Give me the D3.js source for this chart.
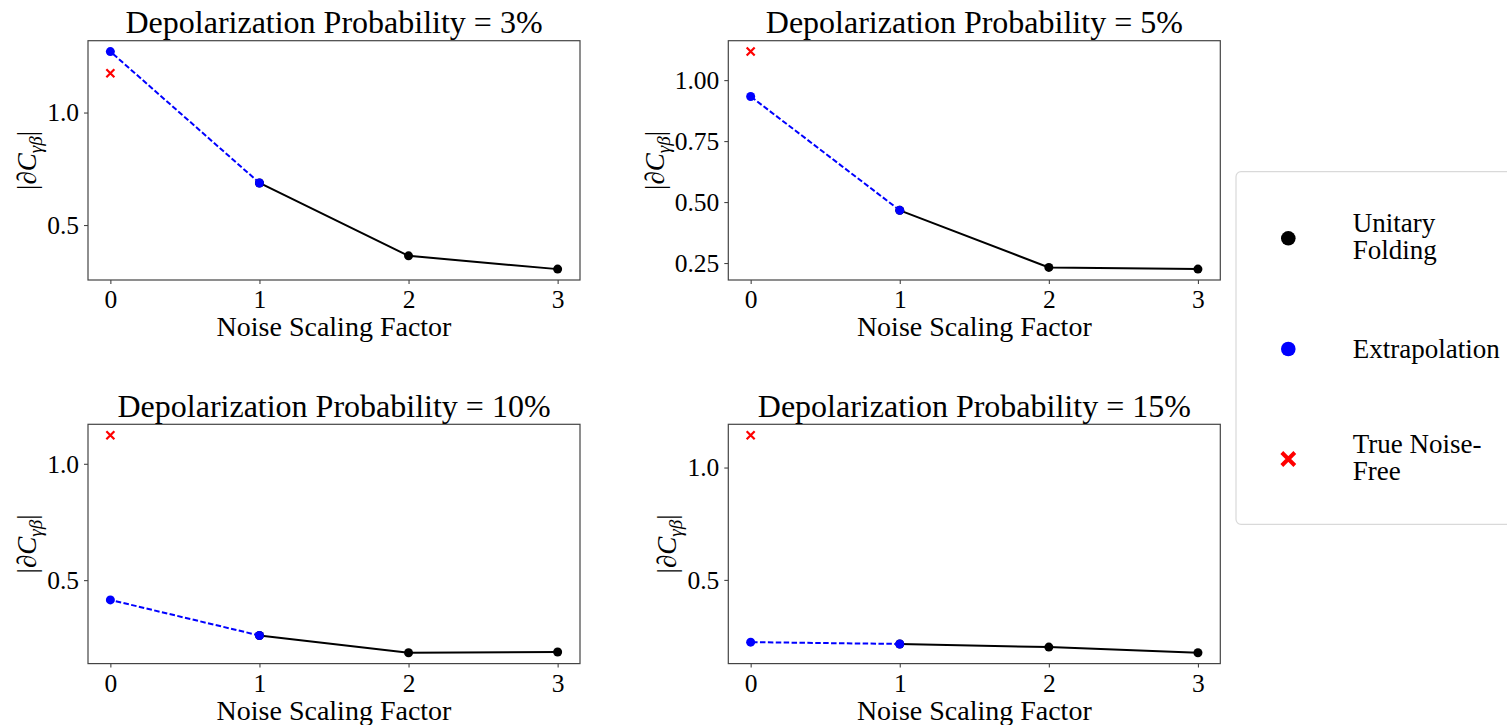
<!DOCTYPE html>
<meta charset='utf-8'>
<style>
body { margin: 0; background: #fff; }
svg { display: block; }
svg, svg text { font-family: "Liberation Serif", "Times New Roman", Times, "DejaVu Serif", serif; fill: #000; }
.tick text { font-size: 25.5px; }
.title { font-size: 32px; }
.xlabel { font-size: 28px; }
.ylabel { font-size: 27px; }
.legend text { font-size: 27px; }
</style>
<svg width='1507' height='725'></svg>
<script src="https://cdn.jsdelivr.net/npm/d3@7"></script>
<script>

// one entry per panel
const probabilities = ['3%', '5%', '10%', '15%'];
const factors = [0, 1, 2, 3];
const foldingFactors = [1, 2, 3];
const foldingValues = [
  [0.687, 0.363, 0.304],
  [0.466, 0.232, 0.225],
  [0.262, 0.188, 0.191],
  [0.215, 0.201, 0.176]
];
const extrapolated = [1.271, 0.933, 0.415, 0.223];
const noiseFree = [1.175, 1.117, 1.123, 1.144];
const yTicks = [
  [0.5, 1.0],
  [0.25, 0.5, 0.75, 1.0],
  [0.5, 1.0],
  [0.5, 1.0]
];
const yFormats = ['.1f', '.2f', '.1f', '.1f'];
const legendLabels = [['Unitary', 'Folding'], ['Extrapolation'], ['True Noise-', 'Free']];

const serif = '"Liberation Serif", "Times New Roman", Times, "DejaVu Serif", serif';
const svg = d3.select('svg');

const plotW = 492, plotH = 239.3;
const origins = [[88, 40.7], [728.3, 40.7], [88, 424.3], [728.3, 424.3]];

probabilities.forEach((p, i) => {
  const [ox, oy] = origins[i];
  const g = svg.append('g').attr('transform', `translate(${ox},${oy})`);

  const all = foldingValues[i].concat([extrapolated[i], noiseFree[i]]);
  const [lo, hi] = d3.extent(all);
  const pad = (hi - lo) * 0.05;

  const x = d3.scaleLinear().domain([-0.15, 3.15]).range([0, plotW]);
  const y = d3.scaleLinear().domain([lo - pad, hi + pad]).range([plotH, 0]);

  const xAxis = g.append('g')
    .attr('transform', `translate(0,${plotH})`)
    .call(d3.axisBottom(x).tickValues(factors).tickFormat(d3.format('d')).tickSize(4).tickPadding(5));
  const yAxis = g.append('g')
    .call(d3.axisLeft(y).tickValues(yTicks[i]).tickFormat(d3.format(yFormats[i])).tickSize(4).tickPadding(5));
  [xAxis, yAxis].forEach(a => {
    a.attr('font-family', serif).attr('font-size', 25.5);
    a.select('.domain').remove();
    a.selectAll('.tick line').attr('stroke', '#444').attr('stroke-width', 1.1);
  });
  xAxis.selectAll('.tick text').attr('dy', null).attr('y', 28);
  yAxis.selectAll('.tick text').attr('dy', '0.33em');

  g.append('rect')
    .attr('width', plotW).attr('height', plotH)
    .attr('fill', 'none').attr('stroke', '#444').attr('stroke-width', 1.2);

  g.append('text').attr('class', 'title')
    .attr('x', plotW / 2).attr('y', -7.4)
    .attr('text-anchor', 'middle')
    .text(`Depolarization Probability = ${p}`);

  g.append('text').attr('class', 'xlabel')
    .attr('x', plotW / 2).attr('y', plotH + 56)
    .attr('text-anchor', 'middle')
    .text('Noise Scaling Factor');

  const tb = yAxis.node().getBBox();
  const yl = g.append('text').attr('class', 'ylabel')
    .attr('transform', `translate(${tb.x - 11},${plotH / 2}) rotate(-90)`)
    .attr('text-anchor', 'middle');
  yl.append('tspan').text('|∂');
  yl.append('tspan').style('font-style', 'italic').text('C');
  yl.append('tspan').style('font-style', 'italic').style('font-size', '19px').attr('dy', 6).text('γβ');
  yl.append('tspan').attr('dy', -6).text('|');

  const line = d3.line().x(d => x(d[0])).y(d => y(d[1]));
  const fold = foldingFactors.map((f, k) => [f, foldingValues[i][k]]);
  const extra = [[1, foldingValues[i][0]], [0, extrapolated[i]]];

  g.append('path').datum(fold)
    .attr('d', line).attr('fill', 'none')
    .attr('stroke', '#000').attr('stroke-width', 2);
  g.selectAll('.fold').data(fold).join('circle')
    .attr('cx', d => x(d[0])).attr('cy', d => y(d[1])).attr('r', 4.5).attr('fill', '#000');

  g.append('path').datum(extra)
    .attr('d', line).attr('fill', 'none')
    .attr('stroke', '#0000ff').attr('stroke-width', 2)
    .attr('stroke-dasharray', '5.5,2.4');
  g.selectAll('.extra').data(extra).join('circle')
    .attr('cx', d => x(d[0])).attr('cy', d => y(d[1])).attr('r', 4.5).attr('fill', '#0000ff');

  const cx = x(0), cy = y(noiseFree[i]), s = 4;
  g.append('path')
    .attr('d', `M${cx - s},${cy - s}L${cx + s},${cy + s}M${cx - s},${cy + s}L${cx + s},${cy - s}`)
    .attr('stroke', '#ff0000').attr('stroke-width', 2.2);
});

// legend
const lg = svg.append('g').attr('class', 'legend').attr('transform', 'translate(1236,171.7)');
lg.append('rect')
  .attr('width', 300).attr('height', 352.6).attr('rx', 5)
  .attr('fill', '#fff').attr('stroke', '#d9d9d9').attr('stroke-width', 1.2);

const rowY = [66.6, 177.3, 287.3];
legendLabels.forEach((lines, k) => {
  const row = lg.append('g').attr('transform', `translate(0,${rowY[k]})`);
  if (k === 0) row.append('circle').attr('cx', 52.3).attr('r', 7.3).attr('fill', '#000');
  if (k === 1) row.append('circle').attr('cx', 52.3).attr('r', 7.3).attr('fill', '#0000ff');
  if (k === 2) {
    const s = 6.5;
    row.append('path')
      .attr('d', `M${52.3 - s},${-s}L${52.3 + s},${s}M${52.3 - s},${s}L${52.3 + s},${-s}`)
      .attr('stroke', '#ff0000').attr('stroke-width', 4);
  }
  const t = row.append('text').attr('x', 116.7);
  if (lines.length === 1) {
    t.attr('y', 9).text(lines[0]);
  } else {
    lines.forEach((l, j) => t.append('tspan').attr('x', 116.7).attr('y', -6 + j * 27).text(l));
  }
});

</script>
